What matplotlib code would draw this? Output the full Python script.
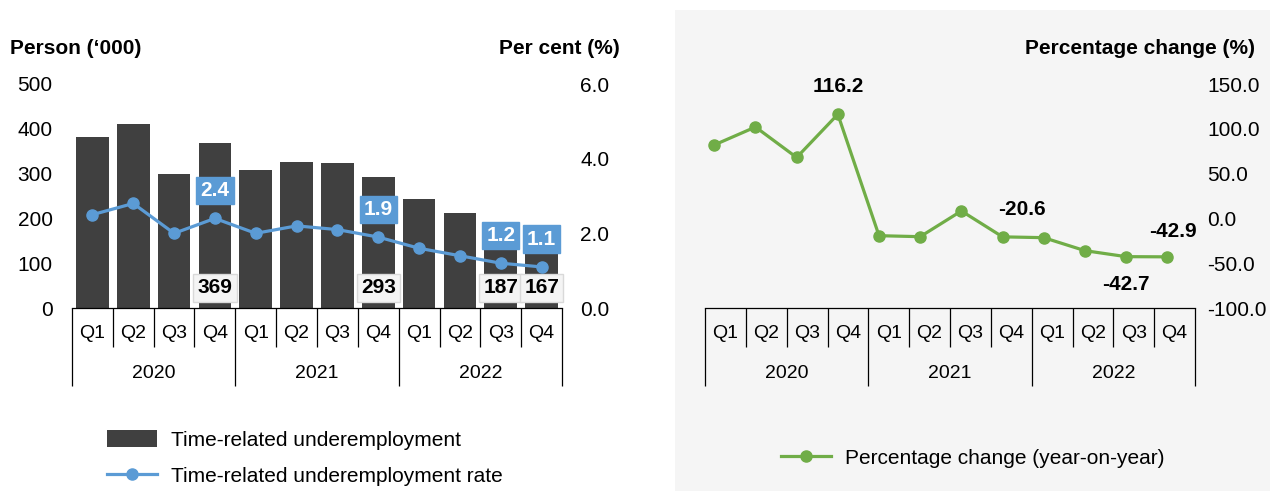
import matplotlib
matplotlib.use('Agg')
import matplotlib.pyplot as plt
import matplotlib.transforms as mtrans
from matplotlib.patches import Rectangle, Patch
from matplotlib.lines import Line2D

plt.rcParams['font.family'] = ['Liberation Sans', 'DejaVu Sans']

# ---------------- data ----------------
quarters = ['Q1', 'Q2', 'Q3', 'Q4'] * 3
years = ['2020', '2021', '2022']
underemp = [381, 410, 298, 369, 308, 327, 324, 293, 243, 211, 187, 167]   # '000 persons
rate = [2.5, 2.8, 2.0, 2.4, 2.0, 2.2, 2.1, 1.9, 1.6, 1.4, 1.2, 1.1]      # per cent
yoy = [82.0, 102.0, 68.0, 116.2, -19.3, -20.4, 8.3, -20.6, -21.5, -36.0, -42.7, -42.9]
labelled_idx = [3, 7, 10, 11]

BAR_C = '#404040'
BLUE = '#5b9bd5'
GREEN = '#70ad47'
BG = '#f5f5f5'

FS = 15
CAT_FS = 14

W, H = 1270, 491
fig = plt.figure(figsize=(W / 100, H / 100), dpi=100)

# grey panel behind right chart
fig.patches.append(Rectangle((675 / W, 0), 1 - 675 / W, 1 - 10 / H,
                             transform=fig.transFigure, facecolor=BG,
                             edgecolor='none', zorder=-10))

def px_axes(x0, x1, ytop, ybot):
    return [x0 / W, 1 - ybot / H, (x1 - x0) / W, (ybot - ytop) / H]

def category_axis(ax):
    trans = mtrans.blended_transform_factory(ax.transData, ax.transAxes)
    n = len(quarters)
    for i in range(n + 1):
        xx = i - 0.5
        end = -0.350 if i % 4 == 0 else -0.174
        ax.plot([xx, xx], [0, end], transform=trans, color='black', lw=0.9,
                clip_on=False, solid_capstyle='butt')
    for i, q in enumerate(quarters):
        ax.text(i, -0.114, q, transform=trans, ha='center', va='center',
                fontsize=CAT_FS)
    for j, y in enumerate(years):
        ax.text(4 * j + 1.5, -0.292, y, transform=trans, ha='center',
                va='center', fontsize=CAT_FS)
    ax.set_xlim(-0.5, n - 0.5)
    ax.set_xticks([])
    for s in ['top', 'left', 'right']:
        ax.spines[s].set_visible(False)
    ax.spines['bottom'].set_color('black')
    ax.spines['bottom'].set_linewidth(0.9)

# ---------------- left chart ----------------
ax1 = fig.add_axes(px_axes(72, 562, 84, 308))
ax1.set_facecolor('none')
x = list(range(len(quarters)))
ax1.bar(x, underemp, width=0.8, color=BAR_C, zorder=2)
ax1.set_ylim(0, 500)
ax1.set_yticks([0, 100, 200, 300, 400, 500])
ax1.tick_params(axis='y', length=0, pad=14, labelsize=FS)
category_axis(ax1)

ax2 = ax1.twinx()
ax2.plot(x, rate, color=BLUE, lw=2.3, marker='o', markersize=8, zorder=3)
ax2.set_ylim(0, 6)
ax2.set_yticks([0, 2, 4, 6])
ax2.set_yticklabels([f'{v:.1f}' for v in [0, 2, 4, 6]])
ax2.tick_params(axis='y', length=0, pad=13, labelsize=FS)
for s in ['top', 'left', 'right', 'bottom']:
    ax2.spines[s].set_visible(False)
ax2.set_xlim(-0.5, len(quarters) - 0.5)

for i in labelled_idx:
    ax1.annotate(f'{underemp[i]}', xy=(i, 0), xytext=(0, 14.5),
                 textcoords='offset points', ha='center', va='center',
                 fontsize=FS, fontweight='bold', color='black', zorder=5,
                 bbox=dict(boxstyle='square,pad=0.2', fc='#f4f4f4',
                           ec='#d9d9d9', lw=1))
    ax2.annotate(f'{rate[i]:.1f}', xy=(i, rate[i]), xytext=(0, 20),
                 textcoords='offset points', ha='center', va='center',
                 fontsize=FS, fontweight='bold', color='white', zorder=6,
                 bbox=dict(boxstyle='square,pad=0.2', fc=BLUE, ec=BLUE))

fig.text(10 / W, 1 - 48 / H, 'Person (‘000)', fontsize=FS, fontweight='bold',
         ha='left', va='center')
fig.text(620 / W, 1 - 48 / H, 'Per cent (%)', fontsize=FS, fontweight='bold',
         ha='right', va='center')

h_bar = Patch(facecolor=BAR_C, edgecolor='none')
h_line = Line2D([], [], color=BLUE, lw=2.3, marker='o', markersize=8)
fig.legend([h_bar, h_line],
           ['Time-related underemployment', 'Time-related underemployment rate'],
           loc='upper left', bbox_to_anchor=(88 / W, 1 - 411 / H),
           frameon=False, fontsize=FS, handlelength=2.4, handleheight=0.9,
           handletextpad=0.7, labelspacing=0.8)

# ---------------- right chart ----------------
pos3 = px_axes(705, 1195, 84, 308)
ax3 = fig.add_axes(pos3)
ax3.set_facecolor('none')
ax3.set_ylim(-100, 150)
ax3.set_yticks([-100, -50, 0, 50, 100, 150])
ax3.set_yticklabels([f'{v:.1f}' for v in [-100, -50, 0, 50, 100, 150]])
ax3.yaxis.tick_right()
ax3.tick_params(axis='y', length=0, pad=9, labelsize=FS)
category_axis(ax3)

# line layer (points sit slightly left of category centres, as in source)
ax4 = fig.add_axes(pos3)
ax4.set_facecolor('none')
ax4.axis('off')
ax4.plot(x, yoy, color=GREEN, lw=2.3, marker='o', markersize=8, zorder=3,
         clip_on=False)
ax4.set_xlim(-0.226, 11.673)
ax4.set_ylim(-100, 150)

offsets = {3: (0, 20), 7: (14, 20), 10: (0, -20), 11: (4, 18)}
for i in labelled_idx:
    ax4.annotate(f'{yoy[i]:.1f}', xy=(i, yoy[i]), xytext=offsets[i],
                 textcoords='offset points', ha='center', va='center',
                 fontsize=FS, fontweight='bold', color='black')

fig.text(1255 / W, 1 - 48 / H, 'Percentage change (%)', fontsize=FS,
         fontweight='bold', ha='right', va='center')

h_g = Line2D([], [], color=GREEN, lw=2.3, marker='o', markersize=8)
fig.legend([h_g], ['Percentage change (year-on-year)'], loc='center left',
           bbox_to_anchor=(762 / W, 1 - 458 / H), frameon=False, fontsize=FS,
           handlelength=2.4, handletextpad=0.7)

fig.savefig('out.png', dpi=100)
